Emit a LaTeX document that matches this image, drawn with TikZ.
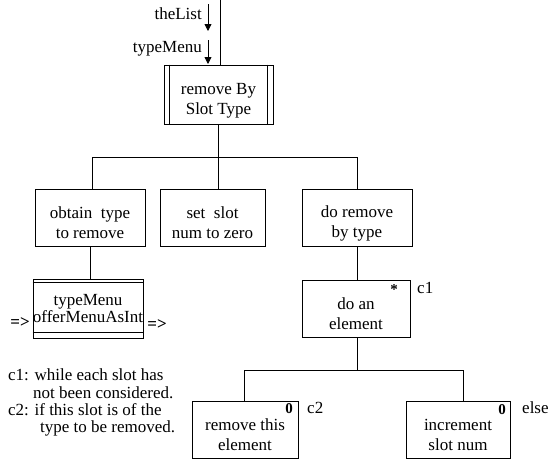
\documentclass[tikz,border=0pt]{standalone}
\usepackage{fontspec}
\setmainfont{Liberation Serif}
\usetikzlibrary{arrows.meta}
\newcommand{\tstrut}{\rule{0pt}{23pt}}
\begin{document}
\begin{tikzpicture}[x=1pt,y=-1pt,
  every node/.style={font=\fontsize{17}{20}\selectfont},
  blk/.style={draw, line width=0.8pt, inner sep=0pt, align=center, minimum height=57pt},
  lbl/.style={inner sep=0pt},
  mark0/.style={inner sep=0pt, font=\fontsize{15}{15}\selectfont\bfseries},
  ln/.style={line width=0.8pt},
  arr/.style={line width=0.8pt,-{Triangle[length=7pt,width=7pt]}}]
\useasboundingbox (0,0) rectangle (557,474);
% boxes
\node[blk, minimum width=109pt, minimum height=59pt] (top) at (218.5,94.5) {\tstrut remove By\\Slot Type};
\draw[ln] ([xshift=6pt]top.north west) -- ([xshift=6pt]top.south west);
\draw[ln] ([xshift=-6pt]top.north east) -- ([xshift=-6pt]top.south east);
\node[blk, minimum width=110pt] (obtain) at (90,217.5) {\tstrut obtain\ \ type\\to remove};
\node[blk, minimum width=105pt] (setslot) at (212.5,217.5) {\tstrut set\ \ slot\\num to zero};
\node[blk, minimum width=110pt] (doremove) at (357,217.5) {\tstrut do remove\\by type};
\node[blk, minimum width=110pt, minimum height=59pt, font=\fontsize{17}{17}\selectfont] (tm) at (88,308.5) {typeMenu\\offerMenuAsInt};
\draw[ln] ([yshift=-4pt]tm.north west) -- ([yshift=-4pt]tm.north east);
\draw[ln] ([yshift=6.5pt]tm.south west) -- ([yshift=6.5pt]tm.south east);
\node[blk, minimum width=108pt] (doelem) at (356,308.5) {\tstrut do an\\element};
\node[blk, minimum width=106pt] (remthis) at (245,429.5) {\tstrut remove this\\element};
\node[blk, minimum width=104pt] (incr) at (458,429.5) {\tstrut increment\\slot num};
% markers
\node[mark0] (star) at (394,290) {*};
\node[mark0] (z1) at (289,409) {0};
\node[mark0] (z2) at (502,410) {0};
\node[lbl, anchor=west] (c1) at (417,288) {c1};
\node[lbl, anchor=west] (c2) at (307,408) {c2};
\node[lbl, anchor=west] (else) at (522,408) {else};
% inputs
\coordinate (in) at (220,0);
\draw[ln] (in) -- (in |- top.north);
\coordinate (a1s) at (208,4);
\coordinate (a1e) at (208,31);
\coordinate (a2s) at (208,40);
\coordinate (a2e) at (208,64);
\draw[arr] (a1s) -- (a1e);
\draw[arr] (a2s) -- (a2e);
\node[lbl, anchor=east] (thelist) at (202,14) {theList};
\node[lbl, anchor=east] (typemenu) at (202,49) {typeMenu};
% first level tree
\coordinate (b1) at (92,157);
\coordinate (b2) at (218,157);
\coordinate (b3) at (357,157);
\draw[ln] (top.south -| b2) -- (b2);
\draw[ln] (obtain.north -| b1) -- (b1) -- (b3) -- (doremove.north -| b3);
\draw[ln] (b2) -- (setslot.north -| b2);
\draw[ln] (obtain.south) -- (obtain.south |- tm.north);
\draw[ln] (doremove.south) -- (doremove.south |- doelem.north);
% second level tree
\coordinate (d0) at (357,370);
\coordinate (d1) at (244,370);
\coordinate (d2) at (463,370);
\draw[ln] (doelem.south -| d0) -- (d0);
\draw[ln] (remthis.north -| d1) -- (d1) -- (d2) -- (incr.north -| d2);
% flow marks
\node[lbl, font=\fontsize{17}{17}\selectfont\bfseries] (fl) at (20,323) {=>};
\node[lbl, font=\fontsize{17}{17}\selectfont\bfseries] (fr) at (157,325) {=>};
% notes
\node[lbl, anchor=west] (n1) at (8,375) {c1: while each slot has};
\node[lbl, anchor=west] (n2) at (33,393) {not been considered.};
\node[lbl, anchor=west] (n3) at (8,410) {c2: if this slot is of the};
\node[lbl, anchor=west] (n4) at (40,428) {type to be removed.};
\end{tikzpicture}
\end{document}
